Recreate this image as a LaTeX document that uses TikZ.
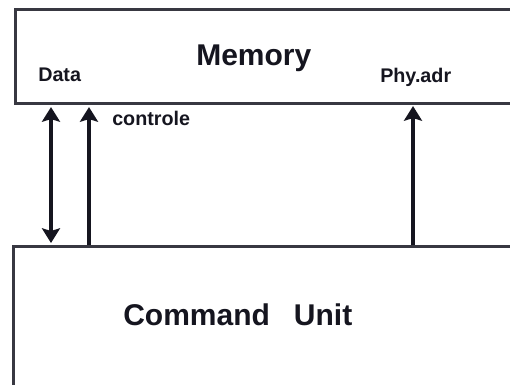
\documentclass[tikz,border=0pt]{standalone}
\usepackage{fontspec}
\setmainfont{Liberation Sans}
\usetikzlibrary{arrows.meta}
\definecolor{ink}{HTML}{15151F}
\tikzset{
  unitbox/.style={draw=ink!85, line width=2.3pt, inner sep=0pt, anchor=north west},
  bigtxt/.style={font=\fontsize{22.5}{26}\selectfont\bfseries, text=ink, inner sep=0pt, anchor=base west},
  smalltxt/.style={font=\fontsize{14.8}{18}\selectfont\bfseries, text=ink, inner sep=0pt, anchor=base west},
  bus/.style={draw=ink, line width=2.4pt, -{Stealth[length=11pt,width=13.5pt,inset=2pt]}},
  dbus/.style={draw=ink, line width=2.4pt, {Stealth[length=11pt,width=13.5pt,inset=2pt]}-{Stealth[length=11pt,width=13.5pt,inset=2pt]}}
}
\begin{document}
\begin{tikzpicture}[x=0.75pt, y=-0.75pt]
  \useasboundingbox (0,0) rectangle (510,385);
  \clip (0,0) rectangle (510,385);
  \fill[white] (0,0) rectangle (510,385);

  % the two units
  \node[unitbox, minimum width=387pt, minimum height=70.5pt] (mem) at (14,8) {};
  \node[unitbox, minimum width=390pt, minimum height=120pt] (cmd) at (12,245) {};

  % labels
  \node[bigtxt] (memlbl) at (196,65) {Memory};
  \node[bigtxt] (cmdlbl) at (123,325) {Command\hspace{0.8em}Unit};
  \node[smalltxt] (datalbl) at (38,81) {Data};
  \node[smalltxt] (adrlbl) at (380,83) {Phy.adr};
  \node[smalltxt] (ctllbl) at (112,125) {controle};

  % bus positions
  \coordinate (xdata) at (51,0);
  \coordinate (xctl) at (89,0);
  \coordinate (xadr) at (413,0);

  % connections between the units
  \draw[dbus] (xdata |- mem.south) ++(0,2) -- ([yshift=1.5pt]xdata |- cmd.north);
  \draw[bus] (xctl |- cmd.north) -- ([yshift=-1.5pt]xctl |- mem.south);
  \draw[bus] (xadr |- cmd.north) -- ([yshift=-0.75pt]xadr |- mem.south);
\end{tikzpicture}
\end{document}
